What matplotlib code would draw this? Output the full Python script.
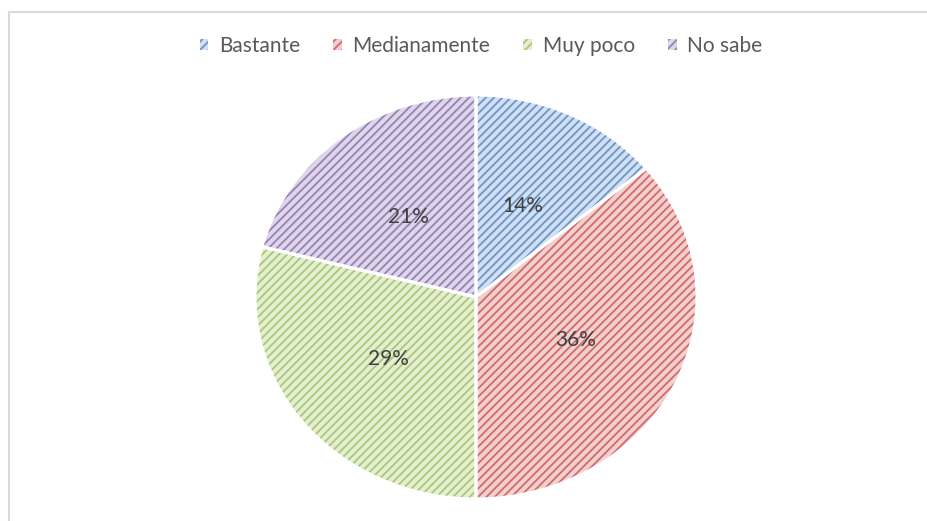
import matplotlib.pyplot as plt
from matplotlib.patches import Patch, Rectangle

# Chart data
categories = ['Bastante', 'Medianamente', 'Muy poco', 'No sabe']
values = [14, 36, 29, 21]
base_colors = ['#6a96cc', '#d26a6a', '#aac874', '#9880b6']
light_colors = ['#d3e0f1', '#f3d0d0', '#e4eed3', '#ded6e9']

plt.rcParams['font.family'] = ['Lato', 'DejaVu Sans']
plt.rcParams['hatch.linewidth'] = 1.3

W, H = 928, 521
fig = plt.figure(figsize=(W / 100, H / 100), dpi=100)

# outer chart border (only top and left show in the crop)
fig.patches.append(Rectangle((9 / W, -0.1), 1.2, (H - 12) / H + 0.1,
                             transform=fig.transFigure, fill=False,
                             edgecolor='#d9d9d9', linewidth=1.5))

# pie area in pixels: left 255, right 697, top 95, bottom 499
ax = fig.add_axes([255 / W, (H - 499) / H, 442 / W, 404 / H])

# hatched fill
wedges, _ = ax.pie(values, startangle=90, counterclock=False,
                   colors=light_colors,
                   wedgeprops=dict(linewidth=0, hatch='////'))
for w, c in zip(wedges, base_colors):
    w.set_edgecolor(c)
    w.set_linewidth(0)

# white separators + percentage labels
_, _, autotexts = ax.pie(values, startangle=90, counterclock=False,
                         colors=['none'] * 4, autopct='%1.0f%%',
                         pctdistance=0.5,
                         wedgeprops=dict(edgecolor='white', linewidth=2.2))
for t in autotexts:
    t.set_color('#404040')
    t.set_fontsize(15)

ax.set_aspect('auto')
ax.set_xlim(-1, 1)
ax.set_ylim(-1, 1)
ax.axis('off')

handles = [Patch(facecolor=lc, edgecolor=bc, hatch='////', linewidth=0)
           for lc, bc in zip(light_colors, base_colors)]
leg = fig.legend(handles, categories, loc='center', ncol=4,
                 bbox_to_anchor=(481 / W, 1 - 46 / H), frameon=False,
                 fontsize=15, handlelength=0.42, handleheight=0.42,
                 handletextpad=0.5, columnspacing=1.6)
for t in leg.get_texts():
    t.set_color('#595959')

fig.savefig('out.png', dpi=100)
